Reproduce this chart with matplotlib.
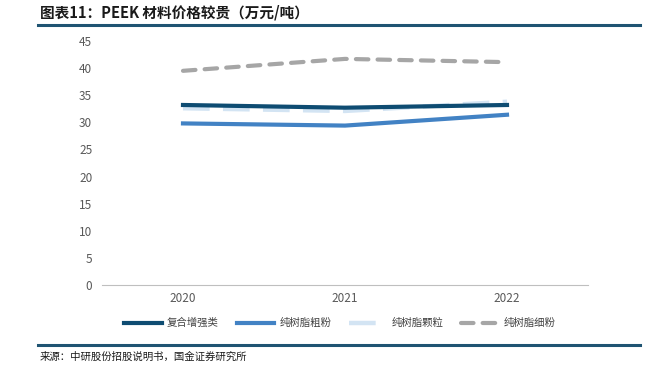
import matplotlib
matplotlib.use("Agg")
import matplotlib.pyplot as plt
from matplotlib.lines import Line2D

plt.rcParams['font.family'] = ['Noto Sans CJK SC', 'DejaVu Sans']

years = ["2020", "2021", "2022"]
composite = [33.2, 32.7, 33.2]
coarse = [29.8, 29.4, 31.4]
pellet = [32.6, 32.1, 33.8]
fine = [39.5, 41.7, 41.1]
series_names = ["复合增强类", "纯树脂粗粉", "纯树脂颗粒", "纯树脂细粉"]
yticks = [0, 5, 10, 15, 20, 25, 30, 35, 40, 45]

W, H = 662, 367
fig = plt.figure(figsize=(W / 100, H / 100), dpi=100)
ax = fig.add_axes([102 / W, 1 - 285 / H, (588 - 102) / W, (285 - 41) / H])

x = range(len(years))
ax.plot(x, pellet, color="#D3E4F3", lw=3.2, dashes=(6, 3), solid_capstyle="butt", zorder=2)
ax.plot(x, composite, color="#0E4C72", lw=3.0, zorder=3)
ax.plot(x, coarse, color="#4282C4", lw=3.0, zorder=3)
ax.plot(x, fine, color="#A6A6A6", lw=3.0, dashes=(3, 2.2), dash_capstyle="round", zorder=3)

ax.set_xlim(-0.5, len(years) - 0.5)
ax.set_ylim(0, 45)
ax.set_yticks(yticks)
ax.set_xticks(list(x))
ax.set_xticklabels(years)
for s in ["left", "right", "top"]:
    ax.spines[s].set_visible(False)
ax.spines["bottom"].set_color("#BFBFBF")
ax.tick_params(axis="both", length=0, labelsize=8.5, labelcolor="#595959")
ax.tick_params(axis="y", pad=7)
ax.tick_params(axis="x", pad=5)

handles = [
    Line2D([], [], color="#0E4C72", lw=3.0),
    Line2D([], [], color="#4282C4", lw=3.0),
    Line2D([], [], color="#D3E4F3", lw=3.2, dashes=(6, 3)),
    Line2D([], [], color="#A6A6A6", lw=3.0, dashes=(3, 2.2), dash_capstyle="round"),
]
fig.legend(handles, series_names, loc="center", bbox_to_anchor=(340 / W, 1 - 323 / H),
           ncol=4, frameon=False, fontsize=7.5, handlelength=3.6, columnspacing=1.7,
           handletextpad=0.5, labelcolor="#404040")

fig.text(40 / W, 1 - 12 / H, "图表11：PEEK 材料价格较贵（万元/吨）", fontsize=10.5,
         fontweight="bold", style="italic", color="#1A1A1A", va="center", ha="left")
fig.add_artist(Line2D([38 / W, 640 / W], [1 - 25 / H, 1 - 25 / H], color="#1F5472", lw=2.2))
fig.add_artist(Line2D([38 / W, 640 / W], [1 - 345 / H, 1 - 345 / H], color="#1F5472", lw=2.2))
fig.text(40 / W, 1 - 357 / H, "来源：中研股份招股说明书，国金证券研究所", fontsize=7.5,
         color="#1A1A1A", va="center", ha="left")

fig.savefig("out.png", dpi=100)
